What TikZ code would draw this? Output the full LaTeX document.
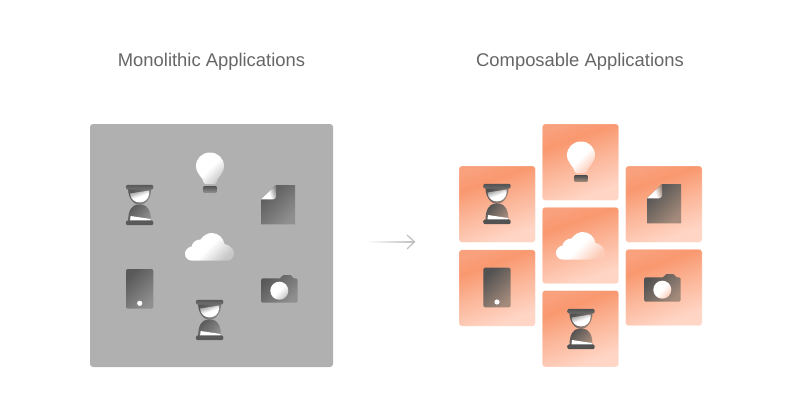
\documentclass[tikz,border=0pt]{standalone}
\usepackage{fontspec}
\setmainfont{Liberation Sans}
\usetikzlibrary{arrows.meta}
\definecolor{tileA}{HTML}{F9986F}
\definecolor{tileB}{HTML}{FFD6C6}
\definecolor{tileC}{HTML}{F9A07C}
\definecolor{tileM}{HTML}{FBB496}
\pgfdeclareverticalshading{tileshade}{100bp}{color(0bp)=(tileB); color(27bp)=(tileB); color(50bp)=(tileM); color(66bp)=(tileA); color(76bp)=(tileC); color(100bp)=(tileC)}
\tikzset{
  x=1pt,y=-1pt,
  title/.style={text=black!60,font=\fontsize{18.4}{20}\selectfont,inner sep=0pt,anchor=base},
  panel/.style={fill=black!31,rounded corners=3pt,minimum size=243pt,inner sep=0pt,outer sep=0pt},
  tile/.style={rounded corners=3pt,minimum size=76.4pt,inner sep=0pt,outer sep=0pt,
    shade,shading=tileshade,shading angle=20},
  tileedge/.style={draw=white,draw opacity=.25,line width=.8pt},
  dk/.style={top color=icd,bottom color=icm,shading angle=45},
  wh/.style={top color=white,bottom color=icw,middle color=white,shading angle=45},
  hourglass/.pic={
    \path[dk] (-11.5,-16) -- (11.5,-16) .. controls (11.5,-7) and (6,0) .. (0,0) .. controls (-6,0) and (-11.5,-7) .. (-11.5,-16) -- cycle;
    \path[dk] (-2,-0.5) .. controls (-8,0) and (-11.5,6) .. (-11.5,16) -- (11.5,16) .. controls (11.5,6) and (8,0) .. (2,-0.5) -- cycle;
    \path[top color=icd!60!white,bottom color=white,middle color=white,shading angle=20] (-9.5,-11.5) -- (9.5,-14.5) -- (9.5,-11) .. controls (9,-6) and (5,-2.6) .. (0,-2.6) .. controls (-5,-2.6) and (-9,-6) .. (-9.5,-11) -- cycle;
    \fill[white] (-9,11) -- (11,14) -- (11,15.8) -- (-9.5,15.8) -- cycle;
    \path[top color=icd,bottom color=icd!85!white,shading angle=0,rounded corners=2pt] (-13.7,-20.2) rectangle (13.7,-15.4);
    \path[top color=icd,bottom color=icd,rounded corners=2pt] (-13.7,15.4) rectangle (13.7,20.2);
  },
  bulb/.pic={
    \path[wh] (-6.3,15.5) .. controls (-6.5,11) and (-14,7) .. (-14,-1) .. controls (-14,-8.5) and (-8,-14.5) .. (0,-14.5) .. controls (8,-14.5) and (14,-8.5) .. (14,-1) .. controls (14,7) and (6.5,11) .. (6.3,15.5) .. controls (6.3,16.5) and (5.5,17) .. (5,17) -- (-5,17) .. controls (-5.5,17) and (-6.3,16.5) .. (-6.3,15.5) -- cycle;
    \path[top color=icd,bottom color=icm,shading angle=0] (-6.3,19.7) rectangle (6.3,25.5);
  },
  docicon/.pic={
    \path[dk] (-2,-19.6) -- (17,-19.6) -- (17,19.7) -- (-17,19.7) -- (-17,-5.3) -- cycle;
    \path[top color=icm,bottom color=white,middle color=white,shading angle=-70] (-2,-19.6) -- (-17,-5.3) -- (-5,-5.3) .. controls (-3.5,-5.3) and (-2,-6.5) .. (-2,-8) -- cycle;
  },
  camera/.pic={
    \path[dk,rounded corners=1.5pt] (-18.3,-12.4) -- (2,-12.4) -- (2.6,-15.6) -- (12.6,-15.6) -- (13.2,-12.4) -- (18.4,-12.4) -- (18.4,12) -- (-18.3,12) -- cycle;
    \path[wh] (0,0) circle[radius=9];
  },
  phone/.pic={
    \path[dk,rounded corners=2pt] (-13.7,-19.8) rectangle (13.6,19.9);
    \fill[white] (0,14.5) circle[radius=2.6];
  },
  cloud/.pic={
    \path[wh] (-17,13.7) .. controls (-22,13.7) and (-24.5,10.5) .. (-24.5,6.5) .. controls (-24.5,3) and (-21,0) .. (-18,-0.5) .. controls (-17,-5) and (-13,-7.5) .. (-9,-7.5) .. controls (-6,-12) and (-1,-14) .. (2,-14) .. controls (9,-14) and (14,-9) .. (15,-3) .. controls (20,-2) and (24.5,2) .. (24.5,6) .. controls (24.5,10.5) and (21,13.7) .. (17,13.7) -- cycle;
  },
}
\begin{document}
\begin{tikzpicture}
\useasboundingbox (0,0) rectangle (792,415);
\fill[white] (0,0) rectangle (792,415);
\node[title] (tl) at (211.5,66.5) {Monolithic Applications};
\node[title] (tr) at (580,66.5) {Composable Applications};
\node[panel] (main) at (211.5,245.5) {};
\begin{scope}
  \colorlet{icd}{black!65}\colorlet{icm}{black!44}\colorlet{icw}{black!22}
  \pic at (139.6,205) {hourglass};
  \pic at (209.6,320) {hourglass};
  \pic at (210,167) {bulb};
  \pic at (278,204.6) {docicon};
  \pic at (279.3,290.7) {camera};
  \pic at (139.7,288.8) {phone};
  \pic at (209.5,247) {cloud};
\end{scope}
\coordinate (arrowstart) at (366,241.8);
\coordinate (arrowend) at (414.5,241.8);
\coordinate (headtop) at (407,235);
\coordinate (headbot) at (407,249);
\shade[left color=white,right color=black!25] (arrowstart) ++(0,-.6) rectangle ([yshift=-.6pt]arrowend);
\draw[black!25,line width=1.2pt] (headtop) -- (arrowend) -- (headbot);
\node[tile,tileedge] (t1) at (497.2,204.2) {};
\node[tile,tileedge] (t2) at (497.2,288) {};
\node[tile,tileedge] (t3) at (580.5,162.2) {};
\node[tile,tileedge] (t4) at (580.5,245.5) {};
\node[tile,tileedge] (t5) at (580.5,328.7) {};
\node[tile,tileedge] (t6) at (663.8,204.2) {};
\node[tile,tileedge] (t7) at (663.8,287.5) {};
\begin{scope}
  \colorlet{icd}{black!68}\colorlet{icw}{tileA!50!white}
  \definecolor{icm}{HTML}{A38A7B}
  \pic at (497,204) {hourglass};
  \pic at (581,329) {hourglass};
  \pic at (581,156) {bulb};
  \pic at (664,203.6) {docicon};
  \pic at (662.3,289.7) {camera};
  \pic at (497,287.5) {phone};
  \pic at (580.5,246) {cloud};
\end{scope}
\end{tikzpicture}
\end{document}
